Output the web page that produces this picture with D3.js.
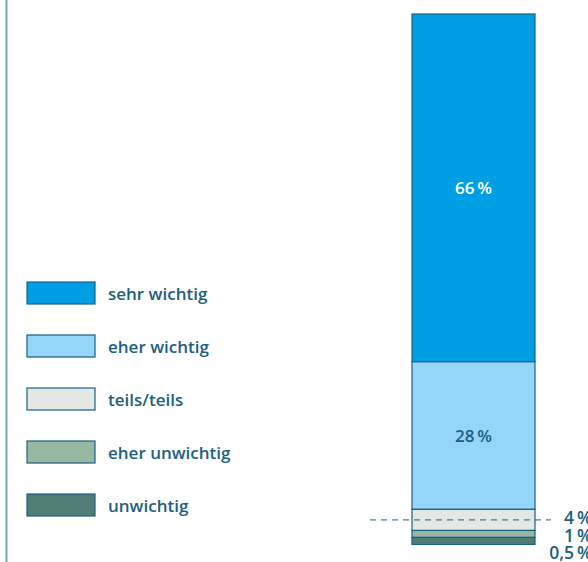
<!DOCTYPE html>
<html>
<head>
<meta charset="utf-8">
<script src="https://cdn.jsdelivr.net/npm/d3@7"></script>
<style>
  body { margin: 0; background: #fff; }
  text { font-family: "Open Sans", sans-serif; font-weight: 600; }
</style>
</head>
<body>
<script>
// answer categories, top to bottom
var categories = ["sehr wichtig", "eher wichtig", "teils/teils", "eher unwichtig", "unwichtig"];
var shares = [66, 28, 4, 1, 0.5];
var shareLabels = ["66\u2009%", "28\u2009%", "4\u2009%", "1\u2009%", "0,5\u2009%"];
var colors = ["#009fe3", "#95d5f5", "#e3e8e5", "#96b8a2", "#517d77"];

var width = 588, height = 562;
var ink = "#1c6080";
var minH = 7; // keep the thin slices visible

var svg = d3.select("body").append("svg")
	.attr("width", width)
	.attr("height", height);

// left rule
svg.append("line")
	.attr("x1", 6.5).attr("x2", 6.5)
	.attr("y1", 0).attr("y2", height)
	.attr("stroke", "#6ea7c6")
	.attr("stroke-width", 2);

// scale for one full 100 % column
var y = d3.scaleLinear()
	.domain([0, 100])
	.range([0, 527]);

var x = d3.scaleBand()
	.domain(["all"])
	.range([412, 535])
	.padding(0);

// stacked segments
var stack = [];
var yPos = 14;
shares.forEach(function (v, i) {
	var h = Math.max(y(v), minH);
	stack.push({ cat: categories[i], v: v, y0: yPos, y1: yPos + h, label: shareLabels[i], color: colors[i] });
	yPos += h;
});

var bar = svg.append("g");
bar.selectAll("rect")
	.data(stack)
	.enter()
	.append("rect")
	.attr("x", x("all"))
	.attr("width", x.bandwidth())
	.attr("y", function (d) { return d.y0; })
	.attr("height", function (d) { return d.y1 - d.y0; })
	.attr("fill", function (d) { return d.color; })
	.attr("stroke", ink)
	.attr("stroke-width", 1.2);

// labels inside the two big segments
bar.selectAll("text.inner")
	.data(stack.slice(0, 2))
	.enter()
	.append("text")
	.attr("class", "inner")
	.attr("x", x("all") + x.bandwidth() / 2)
	.attr("y", function (d) { return (d.y0 + d.y1) / 2 + 6; })
	.attr("text-anchor", "middle")
	.attr("font-size", 17)
	.attr("fill", function (d, i) { return i == 0 ? "#fff" : ink; })
	.text(function (d) { return d.label; });

// small segments labelled on the right
var outY = [524, 542, 559];
svg.selectAll("text.outer")
	.data(stack.slice(2))
	.enter()
	.append("text")
	.attr("class", "outer")
	.attr("x", 592)
	.attr("y", function (d, i) { return outY[i]; })
	.attr("text-anchor", "end")
	.attr("font-size", 17.5)
	.attr("fill", ink)
	.text(function (d) { return d.label; });

// dashed leader through the teils/teils segment
var mid = (stack[2].y0 + stack[2].y1) / 2;
svg.append("line")
	.attr("x1", 370).attr("x2", 551)
	.attr("y1", mid).attr("y2", mid)
	.attr("stroke", ink)
	.attr("stroke-width", 1)
	.attr("stroke-dasharray", "6,5");

// legend
var legend = svg.selectAll("g.legend")
	.data(categories)
	.enter()
	.append("g")
	.attr("class", "legend")
	.attr("transform", function (d, i) { return "translate(27," + (282 + i * 53) + ")"; });

legend.append("rect")
	.attr("width", 68)
	.attr("height", 22)
	.attr("fill", function (d, i) { return colors[i]; })
	.attr("stroke", ink)
	.attr("stroke-width", 1.2);

legend.append("text")
	.attr("x", 81)
	.attr("y", 18)
	.attr("font-size", 17)
	.attr("fill", ink)
	.text(function (d) { return d; });
</script>
</body>
</html>
